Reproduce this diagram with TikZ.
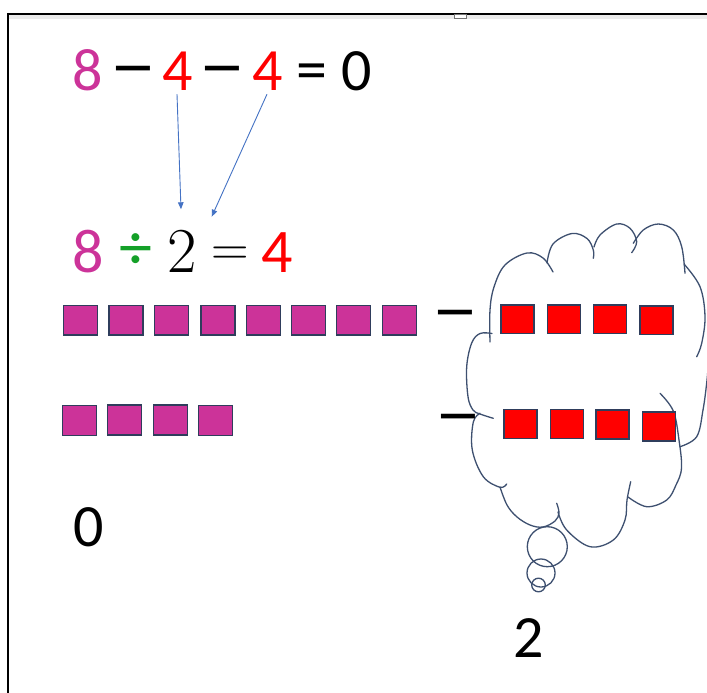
\documentclass[tikz,border=0pt]{standalone}
\usepackage{fontspec}
\usepackage{graphicx}
\newfontfamily\calib{Carlito}
\usetikzlibrary{arrows.meta}
\definecolor{magentasq}{RGB}{204,51,153}
\definecolor{edge}{RGB}{47,61,92}
\definecolor{cloudc}{RGB}{62,80,112}
\definecolor{arrowblue}{RGB}{68,114,196}
\definecolor{divgreen}{RGB}{20,160,40}
\newcommand{\widedash}{\scalebox{1.55}[0.85]{–}}
\begin{document}
\begin{tikzpicture}[x=1pt,y=-1pt,
  sq/.style={draw=edge, line width=1.4pt},
  msq/.style={sq, fill=magentasq},
  rsq/.style={sq, fill=red},
  dig/.style={font=\calib\fontsize{60}{60}\selectfont, inner sep=0pt, anchor=base},
  bigdig/.style={font=\calib\fontsize{62}{62}\selectfont, inner sep=0pt, anchor=base},
  sym/.style={inner sep=0pt, anchor=center},
  minusmark/.style={sym, font=\calib\bfseries\fontsize{62}{62}\selectfont},
  arr/.style={draw=arrowblue, line width=0.9pt, -{Triangle[length=7pt,width=5.5pt]}},
  cloudline/.style={draw=cloudc, line width=1.3pt, line cap=round}]
\useasboundingbox (0,0) rectangle (707,693);
\fill[white] (0,0) rectangle (707,693);

% frame
\fill[black!8] (9,15) rectangle (707,18.7);
\draw[line width=2pt] (7,14) -- (707,14);
\draw[line width=2pt] (8,13) -- (8,693);
\draw[black!55, fill=white, line width=0.8pt] (454,14) rectangle (466,18.7);

% first equation
\node[dig, text=magentasq] (t8) at (88,90) {8};
\node[minusmark] (tm1) at (133,75) {\widedash};
\node[dig, text=red] (t4a) at (178,90) {4};
\node[minusmark] (tm2) at (222,75) {\widedash};
\node[dig, text=red] (t4b) at (268,90) {4};
\node[sym, font=\calib\fontsize{62}{62}\selectfont] (teq) at (311.5,76.7) {=};
\node[dig] (t0) at (356.5,90) {0};

% second equation
\node[bigdig, text=magentasq] (b8) at (88.5,272) {8};
\node[sym, text=divgreen, font=\calib\fontsize{66}{66}\selectfont] (bdiv) at (135.5,251.7) {÷};
\node[inner sep=0pt, anchor=base, font=\fontsize{64}{64}\selectfont] (b2) at (182,272) {2};
\node[sym, font=\fontsize{52}{52}\selectfont] (beq) at (230,256) {=};
\node[bigdig, text=red] (b4) at (277.5,272) {4};

% arrows from the two subtracted fours
\coordinate (d1) at (181,209.3);
\coordinate (d2) at (211.7,216.7);
\draw[arr] ([yshift=-4pt,xshift=-1pt]t4a.south) -- (d1);
\draw[arr] ([yshift=-4pt,xshift=-1pt]t4b.south) -- (d2);

% thought cloud
\draw[cloudline] plot[smooth, tension=0.6] coordinates {(490,342) (490,310) (494,287) (505,265) (527,253) (543,258) (553,272)};
\draw[cloudline] plot[smooth, tension=0.6] coordinates {(547,263) (553,244) (572,233.5) (587,238.5) (593.3,250) (593.3,258.3)};
\draw[cloudline] plot[smooth, tension=0.6] coordinates {(594,247) (600,235) (616.7,224) (630,228.3) (636.7,241.7) (631.7,252.7)};
\draw[cloudline] plot[smooth, tension=0.6] coordinates {(633.3,243.3) (643.3,230) (658.3,224) (673.3,230) (681.7,246.7) (685,273.3)};
\draw[cloudline] plot[smooth, tension=0.6] coordinates {(684,264) (700,286.7) (705,316.7) (701.7,343.3) (696.7,356.7)};
\draw[cloudline] plot[smooth, tension=0.6] coordinates {(708,368) (706.7,383) (703,410) (696.7,436.7) (680,446.7)};
\draw[cloudline] plot[smooth, tension=0.6] coordinates {(628,497) (646.7,506.7) (666.7,500) (676,485) (681.5,468) (679,440) (673.3,411) (660,393.3)};
\draw[cloudline] plot[smooth, tension=0.6] coordinates {(558,512) (566.7,530) (590,546.7) (613.3,540) (625,520) (627,500) (630.7,481.7)};
\draw[cloudline] plot[smooth, tension=0.6] coordinates {(500,487) (507,505) (516.7,516.7) (530,525) (543,527) (555,521) (559,513) (556.7,503.3)};
\draw[cloudline] plot[smooth, tension=0.6] coordinates {(480,413.3) (473.3,422) (472.3,450) (483.3,476.7) (500,487.3) (506.7,484)};
\draw[cloudline] plot[smooth, tension=0.6] coordinates {(492,333.5) (480,333.5) (471.7,343) (466.7,366.7) (468,396.7) (473,410) (480,414) (493.3,418.3)};
\draw[cloudline] (547.3,546.7) circle[radius=20];
\draw[cloudline] (541,573) circle[radius=14];
\draw[cloudline] (538.5,585) circle[radius=6.8];

% magenta squares
\foreach \x in {63.3,109,154.3,201,246.7,291.7,336.7,382.3}
  \draw[msq] (\x,305.7) rectangle ++(34,29.3);
\foreach \x/\y in {62.3/405.7,107.7/405,153.3/405,198.3/405.7}
  \draw[msq] (\x,\y) rectangle ++(34,30);

% red squares inside the cloud
\foreach \x/\y in {501/305,547.7/305,593.3/305,640/306}
  \draw[rsq] (\x,\y) rectangle ++(33,28.5);
\foreach \x/\y in {504/409.3,550.7/409.3,596/410,642.7/412}
  \draw[rsq] (\x,\y) rectangle ++(33,29);

% minus signs before the cloud rows
\node[minusmark] (cm1) at (455.5,318.5) {\widedash};
\node[minusmark] (cm2) at (458,422.7) {\widedash};

% results
\node[dig] (z) at (88.7,546.7) {0};
\node[dig] (two) at (528.3,657) {2};
\end{tikzpicture}
\end{document}
